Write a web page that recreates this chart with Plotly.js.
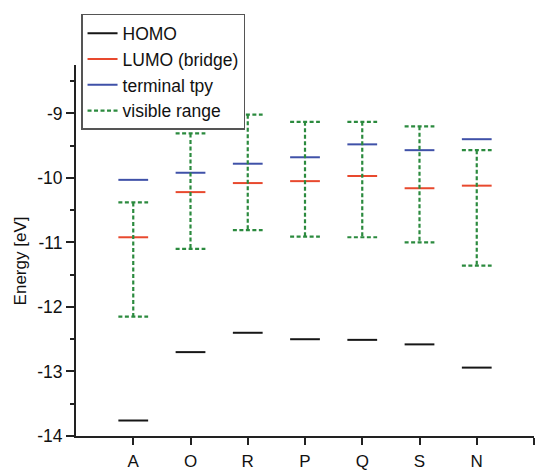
<!DOCTYPE html>
<html>
<head>
<meta charset="utf-8">
<script src="https://cdn.plot.ly/plotly-3.0.1.min.js"></script>
<style>html,body{margin:0;padding:0;background:#fff;}#chart{width:535px;height:472px;}</style>
</head>
<body>
<div id="chart"></div>
<script>
const categories = ['A', 'O', 'R', 'P', 'Q', 'S', 'N'];
const homo = [-13.76, -12.70, -12.40, -12.50, -12.51, -12.58, -12.94];
const lumoBridge = [-10.92, -10.22, -10.08, -10.05, -9.97, -10.16, -10.12];
const terminalTpy = [-10.03, -9.92, -9.78, -9.68, -9.48, -9.57, -9.40];
const visibleTop = [-10.38, -9.31, -9.02, -9.13, -9.13, -9.20, -9.57];
const visibleBottom = [-12.15, -11.10, -10.81, -10.91, -10.92, -11.00, -11.36];
const yTickVals = [-14, -13, -12, -11, -10, -9];
const yTickText = ['-14', '-13', '-12', '-11', '-10', '-9'];

const HW = 0.26; // half width of level marks, in category units

function levelSegments(vals) {
  const x = [], y = [];
  vals.forEach((v, i) => {
    const c = i + 1;
    x.push(c - HW, c + HW, null);
    y.push(v, v, null);
  });
  return {x, y};
}
function rangeSegments(tops, bots) {
  const x = [], y = [];
  tops.forEach((t, i) => {
    const c = i + 1, b = bots[i];
    x.push(c - HW, c + HW, null, c, c, null, c - HW, c + HW, null);
    y.push(t, t, null, t, b, null, b, b, null);
  });
  return {x, y};
}

const font = 'Arial, "Liberation Sans", sans-serif';
const h = levelSegments(homo), l = levelSegments(lumoBridge), t = levelSegments(terminalTpy);
const g = rangeSegments(visibleTop, visibleBottom);

const traces = [
  {x: h.x, y: h.y, mode: 'lines', name: 'HOMO', line: {color: '#161616', width: 2}},
  {x: l.x, y: l.y, mode: 'lines', name: 'LUMO (bridge)', line: {color: '#e8492e', width: 2}},
  {x: t.x, y: t.y, mode: 'lines', name: 'terminal tpy', line: {color: '#3f51a8', width: 2}},
  {x: g.x, y: g.y, mode: 'lines', name: 'visible range', line: {color: '#2b8a3e', width: 2.2, dash: '4px,2.5px'}}
];

const layout = {
  width: 535, height: 472,
  margin: {l: 76, r: 1, t: 65, b: 36, pad: 0},
  paper_bgcolor: '#fff', plot_bgcolor: '#fff',
  font: {family: font, size: 17, color: '#111'},
  showlegend: true,
  legend: {
    x: 0.011, y: 1.1376, xanchor: 'left', yanchor: 'top',
    bgcolor: '#fff', bordercolor: '#555', borderwidth: 1.5,
    font: {family: font, size: 17.5, color: '#111'}
  },
  xaxis: {
    range: [0, 8], showgrid: false, zeroline: false,
    showline: true, linecolor: '#222', linewidth: 2,
    tickmode: 'array', tickvals: [1, 2, 3, 4, 5, 6, 7, 8],
    ticktext: categories.concat(['']),
    ticks: 'outside', ticklen: 7, tickwidth: 2, tickcolor: '#222',
    ticklabelstandoff: 2,
    tickfont: {family: font, size: 17, color: '#111'}
  },
  yaxis: {
    range: [-14, -8.25], showgrid: false, zeroline: false,
    showline: true, linecolor: '#222', linewidth: 2,
    tickmode: 'array', tickvals: yTickVals, ticktext: yTickText,
    ticks: 'outside', ticklen: 8, tickwidth: 2, tickcolor: '#222',
    tickfont: {family: font, size: 17.5, color: '#111'},
    minor: {tick0: -14, dtick: 0.5, ticks: 'outside', ticklen: 4, tickwidth: 2, tickcolor: '#222', showgrid: false}
  },
  annotations: [{
    text: 'Energy [eV]', textangle: -90, showarrow: false,
    xref: 'paper', yref: 'paper', x: -0.122, y: 0.471,
    xanchor: 'center', yanchor: 'middle',
    font: {family: font, size: 17, color: '#111'}
  }]
};

Plotly.newPlot('chart', traces, layout, {displayModeBar: false, staticPlot: true});
</script>
</body>
</html>
